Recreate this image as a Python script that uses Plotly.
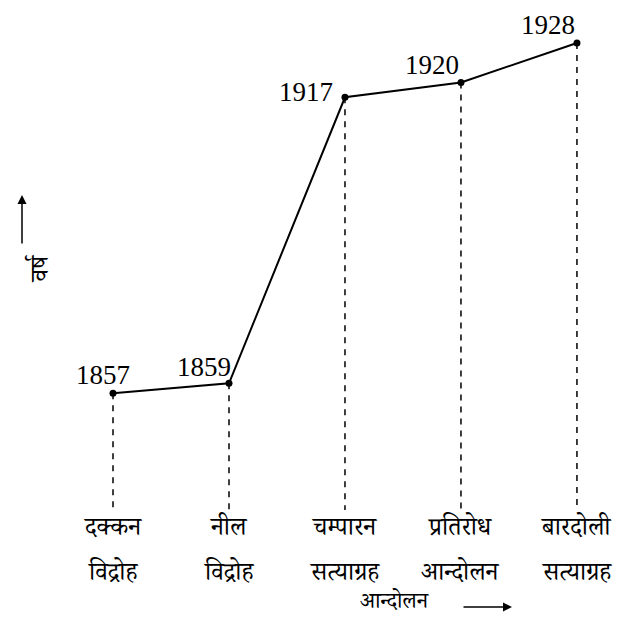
import plotly.graph_objects as go

# Data
movements_line1 = ["दक्कन", "नील", "चम्पारन", "प्रतिरोध", "बारदोली"]
movements_line2 = ["विद्रोह", "विद्रोह", "सत्याग्रह", "आन्दोलन", "सत्याग्रह"]
years = [1857, 1859, 1917, 1920, 1928]
x_title = "आन्दोलन"
y_title = "वर्ष"

idx = list(range(len(years)))
y_bottom = 1833.3

# label offsets (style)
label_dx = [-10, -25, -39, -29, -29]
label_dy = [18, 16, 5, 17, 18]

SERIF = "Liberation Serif, DejaVu Serif, serif"
DEVA = "Noto Serif Devanagari, Noto Sans Devanagari, Noto Sans, serif"

fig = go.Figure()

# dashed drop lines
for i, yv in zip(idx, years):
    fig.add_trace(go.Scatter(x=[i, i], y=[yv, y_bottom], mode="lines",
                             line=dict(color="black", width=1.5, dash="6px,6px"),
                             hoverinfo="skip", showlegend=False))

fig.add_trace(go.Scatter(x=idx, y=years, mode="lines+markers",
                         line=dict(color="black", width=2),
                         marker=dict(color="black", size=7),
                         showlegend=False))

annotations = []
for i, yv, dx, dy in zip(idx, years, label_dx, label_dy):
    annotations.append(dict(x=i, y=yv, xref="x", yref="y", text=str(yv),
                            showarrow=False, xshift=dx, yshift=dy,
                            xanchor="center", yanchor="middle",
                            font=dict(family=SERIF, size=27, color="black")))
for i, (l1, l2) in enumerate(zip(movements_line1, movements_line2)):
    annotations.append(dict(x=i, y=0, xref="x", yref="paper", text=l1,
                            showarrow=False, yanchor="middle", yshift=-21,
                            font=dict(family=DEVA, size=25, color="black")))
    annotations.append(dict(x=i, y=0, xref="x", yref="paper", text=l2,
                            showarrow=False, yanchor="middle", yshift=-66,
                            font=dict(family=DEVA, size=25, color="black")))

# x axis title with arrow
annotations.append(dict(x=2.43, y=0, xref="x", yref="paper", text=x_title,
                        showarrow=False, yanchor="middle", yshift=-95,
                        font=dict(family=DEVA, size=22, color="black")))
annotations.append(dict(x=3.44, y=0, xref="x", yref="paper", ax=-50, ay=0,
                        yshift=-97,
                        showarrow=True, arrowhead=2, arrowsize=1.2, arrowwidth=1.5,
                        arrowcolor="black", text=""))
# y axis title with arrow
annotations.append(dict(x=0, y=0.5, xref="paper", yref="paper", text=y_title,
                        textangle=-90, showarrow=False, xshift=-38, yshift=-9,
                        font=dict(family=DEVA, size=25, color="black")))
annotations.append(dict(x=0, y=0.5, xref="paper", yref="paper", ax=0, ay=50,
                        showarrow=True, arrowhead=2, arrowsize=1.2, arrowwidth=1.5,
                        xshift=-38, yshift=64, arrowcolor="black", text=""))

fig.update_layout(
    width=615, height=614,
    margin=dict(l=52, r=0, t=0, b=112),
    plot_bgcolor="white", paper_bgcolor="white",
    xaxis=dict(range=[-0.457, 4.397], visible=False),
    yaxis=dict(range=[y_bottom, 1935.1], visible=False),
    annotations=annotations,
)

fig.write_html("out.html")
